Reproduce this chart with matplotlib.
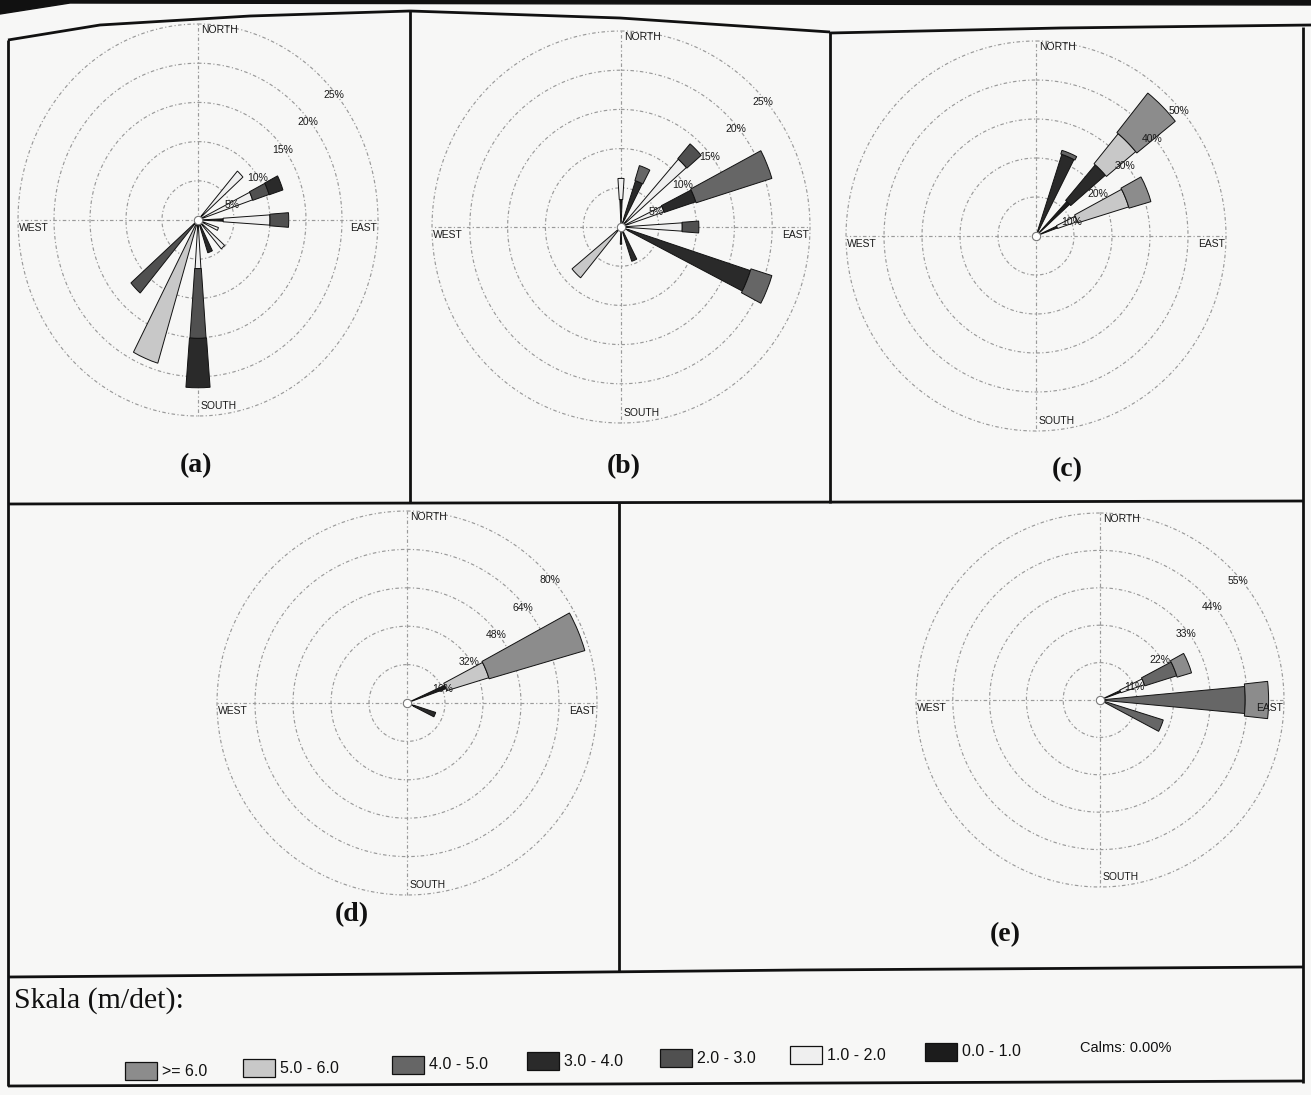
import numpy as np
import matplotlib
matplotlib.use("Agg")
import matplotlib.pyplot as plt
from matplotlib.lines import Line2D
from matplotlib.patches import Polygon, Rectangle

W, H = 1311, 1095

DIRECTIONS = ["N", "NNE", "NE", "ENE", "E", "ESE", "SE", "SSE",
              "S", "SSW", "SW", "WSW", "W", "WNW", "NW", "NNW"]

# speed classes, innermost first
SPEED_CLASSES = ["0.0 - 1.0", "1.0 - 2.0", "2.0 - 3.0", "3.0 - 4.0",
                 "4.0 - 5.0", "5.0 - 6.0", ">= 6.0"]
CLASS_COLORS = ["#1c1c1c", "#efefef", "#505050", "#2a2a2a",
                "#666666", "#c8c8c8", "#8c8c8c"]
CLASS_WIDTHS = [5, 7.5, 8.5, 9, 10.5, 11, 12.5]  # degrees
CALMS = "0.00%"

# frequency (%) per direction, one value per speed class (0-1 ... >=6)
rose_a = {
    "NE":  [0.5, 7.8, 0, 0, 0, 0, 0],
    "ENE": [0.5, 7.5, 2.4, 2.0, 0, 0, 0],
    "E":   [3.5, 6.5, 2.6, 0, 0, 0, 0],
    "ESE": [0.3, 2.7, 0, 0, 0, 0, 0],
    "SE":  [0.3, 4.6, 0, 0, 0, 0, 0],
    "SSE": [0.5, 0, 0, 3.9, 0, 0, 0],
    "S":   [0.5, 5.7, 8.9, 6.3, 0, 0, 0],
    "SSW": [0.5, 0, 0, 0, 0, 18.6, 0],
    "SW":  [0.5, 0, 11.8, 0, 0, 0, 0],
}
rose_b = {
    "N":   [3.5, 2.7, 0, 0, 0, 0, 0],
    "NNE": [1.0, 0, 0, 5.2, 2.0, 0, 0],
    "NE":  [0.5, 11.0, 2.5, 0, 0, 0, 0],
    "ENE": [0.5, 5.5, 0, 4.4, 10.5, 0, 0],
    "E":   [0.5, 7.6, 2.2, 0, 0, 0, 0],
    "ESE": [1.0, 0, 0, 17.0, 2.9, 0, 0],
    "SSE": [0.5, 0, 0, 4.1, 0, 0, 0],
    "S":   [2.2, 0, 0, 0, 0, 0, 0],
    "SW":  [0.5, 0, 0, 0, 0, 7.9, 0],
}
rose_c = {
    "NNE": [0.5, 0, 0, 21.5, 1.0, 0, 0],
    "NE":  [12.0, 0, 0, 12.0, 0, 10.0, 13.0],
    "ENE": [6.0, 5.5, 0, 0, 0, 14.0, 6.0],
}
rose_d = {
    "ENE": [17.5, 0, 0, 0, 0, 18.5, 42.0],
    "ESE": [3.0, 0, 0, 9.7, 0, 0, 0],
}
rose_e = {
    "ENE": [6.6, 7.4, 0, 0, 10.0, 0, 4.5],
    "E":   [1.0, 0, 0, 0, 42.4, 0, 7.0],
    "ESE": [1.0, 0, 0, 0, 18.8, 0, 0],
}

rings_a = [5, 10, 15, 20, 25]
rings_b = [5, 10, 15, 20, 25]
rings_c = [10, 20, 30, 40, 50]
rings_d = [16, 32, 48, 64, 80]
rings_e = [11, 22, 33, 44, 55]


def px_to_fig(x, y):
    return x / W, 1 - y / H


def add_rose(fig, data, rings, cx, cy, rx, ry):
    ax = fig.add_axes([(cx - rx) / W, 1 - (cy + ry) / H, 2 * rx / W, 2 * ry / H],
                      projection="polar")
    ax.set_aspect("auto")
    ax.set_theta_zero_location("N")
    ax.set_theta_direction(-1)
    ax.set_axis_off()
    rmax = rings[-1]
    ax.set_ylim(0, rmax)

    grid = dict(color="#9a9a9a", lw=0.85, ls=(0, (3, 2, 1, 2)), zorder=1,
                clip_on=False)
    t = np.linspace(0, 2 * np.pi, 361)
    for ring in rings:
        ax.plot(t, np.full_like(t, ring), **grid)
    for a in (0, 90, 180, 270):
        ax.plot([np.deg2rad(a)] * 2, [0, rmax], **grid)

    for name, values in data.items():
        theta = np.deg2rad(DIRECTIONS.index(name) * 22.5)
        bottom = 0.0
        for k, v in enumerate(values):
            if v <= 0:
                continue
            ax.bar(theta, v, width=np.deg2rad(CLASS_WIDTHS[k]), bottom=bottom,
                   color=CLASS_COLORS[k], edgecolor="#111111", linewidth=0.7,
                   zorder=3, clip_on=False)
            bottom += v

    ax.plot(0, 0, "o", ms=6, mfc="white", mec="#777777", mew=0.8, zorder=4)

    lab = dict(fontsize=7.5, family="Liberation Sans", color="#1a1a1a",
               textcoords="offset points", zorder=5, annotation_clip=False)
    for ring in rings:
        ax.annotate(f"{ring}%", xy=(np.deg2rad(45), ring), xytext=(6, -9.5),
                    ha="center", va="center", **lab)
    ax.annotate("NORTH", xy=(0, rmax), xytext=(2, -4), ha="left", va="center", **lab)
    ax.annotate("SOUTH", xy=(np.pi, rmax), xytext=(2, 7), ha="left", va="center", **lab)
    ax.annotate("EAST", xy=(np.pi / 2, rmax), xytext=(-1, -2), ha="right", va="top", **lab)
    ax.annotate("WEST", xy=(1.5 * np.pi, rmax), xytext=(1, -2), ha="left", va="top", **lab)
    return ax


def frame_line(fig, pts, lw=2.0):
    xs, ys = zip(*[px_to_fig(x, y) for x, y in pts])
    fig.add_artist(Line2D(xs, ys, color="#111111", lw=lw, solid_capstyle="butt"))


fig = plt.figure(figsize=(W / 100, H / 100), dpi=100, facecolor="#f7f7f6")

# page header strip and panel frame
fig.add_artist(Polygon([px_to_fig(*p) for p in
                        [(0, 0), (1311, 0), (1311, 5), (70, 3), (0, 14)]],
                       closed=True, color="#111111"))
frame_line(fig, [(8, 40), (100, 25), (250, 16), (410, 11)])
frame_line(fig, [(410, 11), (620, 18), (830, 32)])
frame_line(fig, [(830, 33), (1060, 28), (1311, 25)])
frame_line(fig, [(8, 40), (8, 1086)])
frame_line(fig, [(1303, 27), (1303, 1083)])
frame_line(fig, [(410, 11), (410, 503)])
frame_line(fig, [(830, 32), (830, 503)])
frame_line(fig, [(8, 504), (1303, 501)])
frame_line(fig, [(619, 503), (619, 972)])
frame_line(fig, [(8, 977), (400, 974), (800, 970), (1303, 967)])
frame_line(fig, [(8, 1086), (600, 1084), (1303, 1081)])

# letter, data, rings, centre x/y, radius x/y, letter x/y (pixels)
panels = [
    ("(a)", rose_a, rings_a, 198, 220, 180, 196, 196, 466),
    ("(b)", rose_b, rings_b, 621, 227, 189, 196, 624, 467),
    ("(c)", rose_c, rings_c, 1036, 236, 190, 195, 1067, 470),
    ("(d)", rose_d, rings_d, 407, 703, 190, 192, 352, 915),
    ("(e)", rose_e, rings_e, 1100, 700, 184, 187, 1005, 935),
]
for letter, data, rings, cx, cy, rx, ry, lx, ly in panels:
    add_rose(fig, data, rings, cx, cy, rx, ry)
    fig.text(*px_to_fig(lx, ly), letter, fontsize=20, fontweight="bold",
             family="Liberation Serif", ha="center", va="center", color="#111111")

# legend
fig.text(*px_to_fig(14, 1001), "Skala (m/det):", fontsize=21.5,
         family="Liberation Serif", ha="left", va="center", color="#111111")
swatch_x = [125, 243, 392, 527, 660, 790, 925]
for x, k in zip(swatch_x, range(len(SPEED_CLASSES) - 1, -1, -1)):
    y = 1071 - 0.024 * (x - 125)
    fx, fy = px_to_fig(x, y + 9)
    fig.add_artist(Rectangle((fx, fy), 32 / W, 18 / H, facecolor=CLASS_COLORS[k],
                             edgecolor="#111111", lw=0.9))
    fig.text(*px_to_fig(x + 37, y), SPEED_CLASSES[k], fontsize=11.5,
             family="Liberation Sans", ha="left", va="center", color="#111111")
fig.text(*px_to_fig(1080, 1048), f"Calms: {CALMS}", fontsize=10.5,
         family="Liberation Sans", ha="left", va="center", color="#111111")

fig.savefig("out.png", dpi=100, facecolor=fig.get_facecolor())
